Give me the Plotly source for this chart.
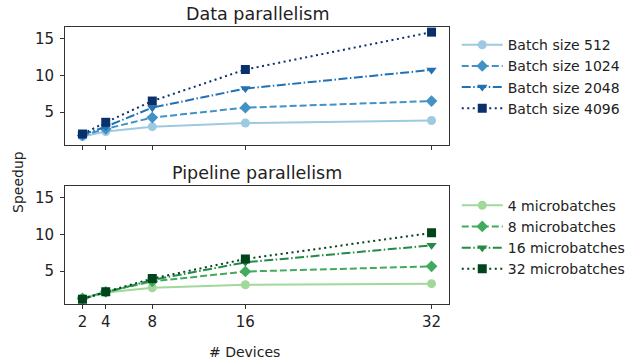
import plotly.graph_objects as go

devices = [2, 4, 8, 16, 32]

dp_labels = ["Batch size 512", "Batch size 1024", "Batch size 2048", "Batch size 4096"]
dp_values = [
    [1.65, 2.35, 3.0, 3.5, 3.85],
    [1.8, 2.7, 4.25, 5.6, 6.5],
    [1.9, 3.0, 5.6, 8.2, 10.75],
    [2.0, 3.6, 6.5, 10.8, 15.9],
]
pp_labels = ["4 microbatches", "8 microbatches", "16 microbatches", "32 microbatches"]
pp_values = [
    [1.35, 2.1, 2.75, 3.15, 3.3],
    [1.3, 2.2, 3.6, 4.95, 5.65],
    [1.25, 2.1, 3.8, 6.2, 8.5],
    [1.2, 2.2, 4.0, 6.65, 10.2],
]

x_ticks = [2, 4, 8, 16, 32]
y_ticks = [5, 10, 15]

blues = ["#9ecae1", "#4292c6", "#2171b5", "#08306b"]
greens = ["#a1d99b", "#41ab5d", "#238b45", "#00441b"]
dashes = ["solid", "7px,3px", "9px,2.5px,1.5px,2.5px", "2px,3.5px"]
symbols = ["circle", "diamond", "triangle-down", "square"]
text_color = "#222222"

fig = go.Figure()
for i in range(4):
    fig.add_trace(go.Scatter(
        x=devices, y=dp_values[i], name=dp_labels[i], mode="lines+markers",
        line=dict(color=blues[i], dash=dashes[i], width=2),
        marker=dict(symbol=symbols[i], size=9, color=blues[i]),
        xaxis="x", yaxis="y", legend="legend"))
for i in range(4):
    fig.add_trace(go.Scatter(
        x=devices, y=pp_values[i], name=pp_labels[i], mode="lines+markers",
        line=dict(color=greens[i], dash=dashes[i], width=2),
        marker=dict(symbol=symbols[i], size=9, color=greens[i]),
        xaxis="x2", yaxis="y2", legend="legend2"))

axis_common = dict(showgrid=False, zeroline=False, showline=True, mirror=True,
                   linecolor="#333333", linewidth=1, ticks="outside", ticklen=4,
                   tickcolor="#333333", tickfont=dict(size=15, color=text_color),
                   automargin=False)

fig.update_layout(
    width=630, height=364,
    margin=dict(l=0, r=0, t=0, b=0, pad=0),
    paper_bgcolor="white", plot_bgcolor="white",
    font=dict(family="DejaVu Sans", color=text_color),
    xaxis=dict(domain=[0.1032, 0.7127], range=[0.5, 33.5], tickvals=x_ticks,
               showticklabels=False, anchor="y", **axis_common),
    yaxis=dict(domain=[0.6016, 0.9258], range=[0.5, 16.6], tickvals=y_ticks,
               anchor="x", ticklabelstandoff=3, **axis_common),
    xaxis2=dict(domain=[0.1032, 0.7127], range=[0.5, 33.5], tickvals=x_ticks,
                anchor="y2", **axis_common),
    yaxis2=dict(domain=[0.164, 0.4898], range=[0.5, 16.6], tickvals=y_ticks,
                anchor="x2", ticklabelstandoff=3, **axis_common),
    legend=dict(x=0.725, y=0.92, xanchor="left", yanchor="top",
                font=dict(size=14, color=text_color), bgcolor="rgba(0,0,0,0)", itemwidth=41),
    legend2=dict(x=0.725, y=0.479, xanchor="left", yanchor="top",
                 font=dict(size=14, color=text_color), bgcolor="rgba(0,0,0,0)", itemwidth=41),
    annotations=[
        dict(text="Data parallelism", x=0.408, y=1 - 14 / 364, xref="paper", yref="paper",
             showarrow=False, font=dict(size=17.5, color=text_color),
             xanchor="center", yanchor="middle"),
        dict(text="Pipeline parallelism", x=0.408, y=1 - 173 / 364, xref="paper", yref="paper",
             showarrow=False, font=dict(size=17.5, color=text_color),
             xanchor="center", yanchor="middle"),
        dict(text="Speedup", x=18 / 630, y=1 - 182 / 364, xref="paper", yref="paper",
             showarrow=False, font=dict(size=14, color=text_color), textangle=-90,
             xanchor="center", yanchor="middle"),
        dict(text="# Devices", x=244 / 630, y=1 - 352 / 364, xref="paper", yref="paper",
             showarrow=False, font=dict(size=14, color=text_color),
             xanchor="center", yanchor="middle"),
    ],
)

fig.write_html("out.html", config={"displayModeBar": False},
               post_script="document.body.style.margin='0';")
